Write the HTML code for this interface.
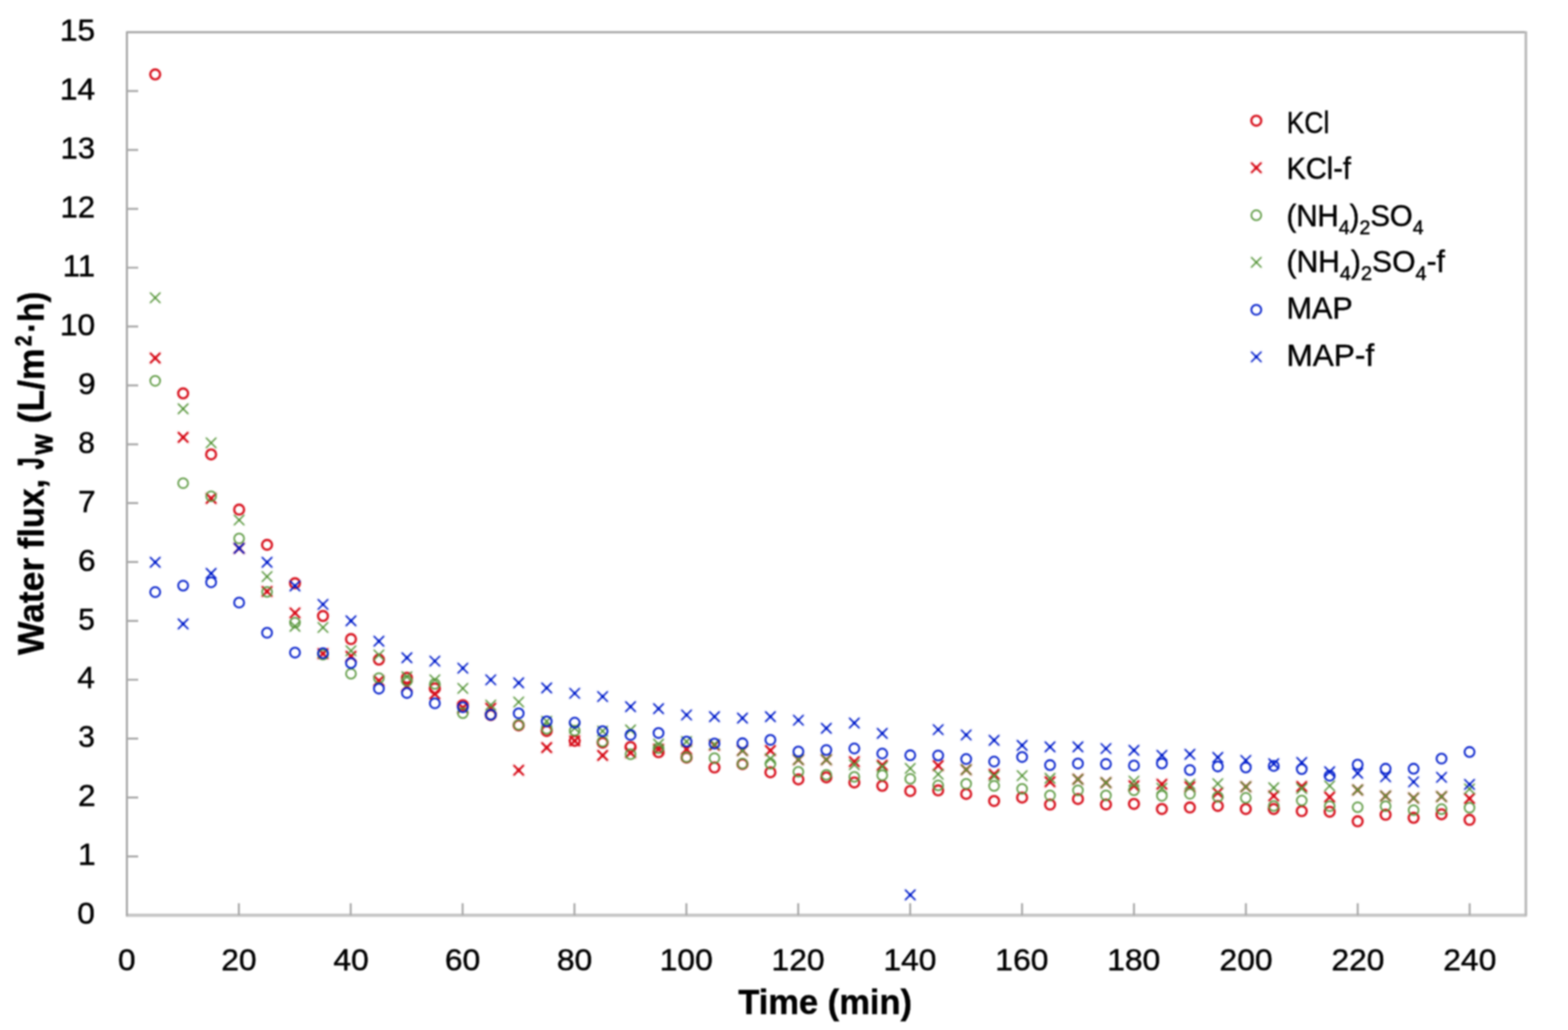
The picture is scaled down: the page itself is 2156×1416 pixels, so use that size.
<!DOCTYPE html>
<html lang="en"><head><meta charset="utf-8"><title>Water flux vs time</title>
<style>html,body{margin:0;padding:0;background:#fff}body{width:2156px;height:1416px;overflow:hidden}svg{display:block}.b{filter:blur(0.9px)}text{font-family:"Liberation Sans", sans-serif}.ro,.go,.bo,.rx,.gx,.bx{fill:none;stroke-linecap:butt}.ro,.rx{stroke:#d8121e}.go,.gx{stroke:#5a983e}.bo,.bx{stroke:#0420cc}.ro{stroke-width:2.9}.rx{stroke-width:2.7}.ro.h1{stroke-width:5.1}.rx.h1{stroke-width:4.9}.rx.d{stroke-linecap:round;stroke-width:5.6}.go{stroke-width:2.0}.gx{stroke-width:1.8}.go.h1{stroke-width:4.2}.gx.h1{stroke-width:4.0}.gx.d{stroke-linecap:round;stroke-width:3.8}.bo{stroke-width:2.3}.bx{stroke-width:2.0}.bo.h1{stroke-width:4.5}.bx.h1{stroke-width:4.2}.bx.d{stroke-linecap:round;stroke-width:4.8}.h1{stroke-opacity:0.1;stroke-linecap:round}.bm{filter:blur(0.9px)}</style></head><body>
<svg role="img" aria-label="Water flux versus time for KCl, (NH4)2SO4 and MAP draw solutions" width="2156" height="1416" viewBox="0 0 2156 1416">
<rect width="2156" height="1416" fill="#ffffff"/>
<g id="frame" class="b" fill="none">
<path d="M173.0 1258.2 H2099.2" stroke="#c6c6c6" stroke-width="4.4"/>
<path d="M174.5 1259.2 V44.3 H2097.7" stroke="#a8a8a8" stroke-width="2.9" stroke-linejoin="round"/>
<path d="M2098.1 42.9 V1259.2" stroke="#bababa" stroke-width="3.6"/>
<path d="M174.5 1177.3h15.5 M174.5 1096.3h15.5 M174.5 1015.4h15.5 M174.5 934.5h15.5 M174.5 853.6h15.5 M174.5 772.6h15.5 M174.5 691.7h15.5 M174.5 610.8h15.5 M174.5 529.9h15.5 M174.5 448.9h15.5 M174.5 368.0h15.5 M174.5 287.1h15.5 M174.5 206.2h15.5 M174.5 125.2h15.5" stroke="#a8a8a8" stroke-width="2.7"/>
<path d="M328.4 1258.2v-16.5 M482.2 1258.2v-16.5 M636.1 1258.2v-16.5 M789.9 1258.2v-16.5 M943.8 1258.2v-16.5 M1097.6 1258.2v-16.5 M1251.5 1258.2v-16.5 M1405.3 1258.2v-16.5 M1559.2 1258.2v-16.5 M1713.1 1258.2v-16.5 M1866.9 1258.2v-16.5 M2020.8 1258.2v-16.5" stroke="#a8a8a8" stroke-width="2.7"/>
</g>
<g id="ylabels" class="b">
<text transform="translate(106.28 1270.20) scale(1.0350 1.0000)" font-size="42" font-weight="400" fill="#000000" stroke="#000000" stroke-width="0.6">0</text>
<text transform="translate(107.23 1189.27) scale(1.0389 1.0000)" font-size="42" font-weight="400" fill="#000000" stroke="#000000" stroke-width="0.6">1</text>
<text transform="translate(107.28 1108.35) scale(1.0368 1.0000)" font-size="42" font-weight="400" fill="#000000" stroke="#000000" stroke-width="0.6">2</text>
<text transform="translate(107.38 1027.42) scale(0.9850 1.0000)" font-size="42" font-weight="400" fill="#000000" stroke="#000000" stroke-width="0.6">3</text>
<text transform="translate(106.32 946.49) scale(1.0333 1.0000)" font-size="42" font-weight="400" fill="#000000" stroke="#000000" stroke-width="0.6">4</text>
<text transform="translate(107.38 865.57) scale(0.9850 1.0000)" font-size="42" font-weight="400" fill="#000000" stroke="#000000" stroke-width="0.6">5</text>
<text transform="translate(107.28 784.64) scale(1.0368 1.0000)" font-size="42" font-weight="400" fill="#000000" stroke="#000000" stroke-width="0.6">6</text>
<text transform="translate(107.28 703.71) scale(1.0368 1.0000)" font-size="42" font-weight="400" fill="#000000" stroke="#000000" stroke-width="0.6">7</text>
<text transform="translate(107.38 622.79) scale(0.9850 1.0000)" font-size="42" font-weight="400" fill="#000000" stroke="#000000" stroke-width="0.6">8</text>
<text transform="translate(107.28 541.86) scale(1.0368 1.0000)" font-size="42" font-weight="400" fill="#000000" stroke="#000000" stroke-width="0.6">9</text>
<text transform="translate(82.23 460.93) scale(1.0405 1.0000)" font-size="42" font-weight="400" fill="#000000" stroke="#000000" stroke-width="0.6">10</text>
<text transform="translate(86.30 380.01) scale(1.0179 1.0000)" font-size="42" font-weight="400" fill="#000000" stroke="#000000" stroke-width="0.6">11</text>
<text transform="translate(83.30 299.08) scale(1.0167 1.0000)" font-size="42" font-weight="400" fill="#000000" stroke="#000000" stroke-width="0.6">12</text>
<text transform="translate(83.30 218.15) scale(1.0167 1.0000)" font-size="42" font-weight="400" fill="#000000" stroke="#000000" stroke-width="0.6">13</text>
<text transform="translate(82.23 137.23) scale(1.0405 1.0000)" font-size="42" font-weight="400" fill="#000000" stroke="#000000" stroke-width="0.6">14</text>
<text transform="translate(82.23 56.30) scale(1.0405 1.0000)" font-size="42" font-weight="400" fill="#000000" stroke="#000000" stroke-width="0.6">15</text>
</g>
<g id="xlabels" class="b">
<text transform="translate(162.28 1333.80) scale(1.0350 1.0000)" font-size="42" font-weight="400" fill="#000000" stroke="#000000" stroke-width="0.6">0</text>
<text transform="translate(304.13 1333.80) scale(1.0395 1.0000)" font-size="42" font-weight="400" fill="#000000" stroke="#000000" stroke-width="0.6">20</text>
<text transform="translate(458.52 1333.80) scale(1.0386 1.0000)" font-size="42" font-weight="400" fill="#000000" stroke="#000000" stroke-width="0.6">40</text>
<text transform="translate(611.84 1333.80) scale(1.0395 1.0000)" font-size="42" font-weight="400" fill="#000000" stroke="#000000" stroke-width="0.6">60</text>
<text transform="translate(765.69 1333.80) scale(1.0395 1.0000)" font-size="42" font-weight="400" fill="#000000" stroke="#000000" stroke-width="0.6">80</text>
<text transform="translate(907.01 1333.80) scale(1.0415 1.0000)" font-size="42" font-weight="400" fill="#000000" stroke="#000000" stroke-width="0.6">100</text>
<text transform="translate(1060.86 1333.80) scale(1.0415 1.0000)" font-size="42" font-weight="400" fill="#000000" stroke="#000000" stroke-width="0.6">120</text>
<text transform="translate(1214.72 1333.80) scale(1.0415 1.0000)" font-size="42" font-weight="400" fill="#000000" stroke="#000000" stroke-width="0.6">140</text>
<text transform="translate(1368.57 1333.80) scale(1.0415 1.0000)" font-size="42" font-weight="400" fill="#000000" stroke="#000000" stroke-width="0.6">160</text>
<text transform="translate(1522.43 1333.80) scale(1.0415 1.0000)" font-size="42" font-weight="400" fill="#000000" stroke="#000000" stroke-width="0.6">180</text>
<text transform="translate(1676.83 1333.80) scale(1.0409 1.0000)" font-size="42" font-weight="400" fill="#000000" stroke="#000000" stroke-width="0.6">200</text>
<text transform="translate(1830.68 1333.80) scale(1.0409 1.0000)" font-size="42" font-weight="400" fill="#000000" stroke="#000000" stroke-width="0.6">220</text>
<text transform="translate(1984.54 1333.80) scale(1.0409 1.0000)" font-size="42" font-weight="400" fill="#000000" stroke="#000000" stroke-width="0.6">240</text>
</g>
<g id="titles" class="b">
<text transform="translate(1015.18 1393.80) scale(0.9675 1.0000)" font-size="49" font-weight="700" fill="#000000" stroke="#000000" stroke-width="0.5">Time (min)</text>
<text transform="translate(60.10 900.45) rotate(-90) scale(0.9750 1)" font-size="50" font-weight="700" fill="#000000" stroke="#000000" stroke-width="0.5">Water</text>
<text transform="translate(60.10 754.69) rotate(-90) scale(0.9364 1)" font-size="50" font-weight="700" fill="#000000" stroke="#000000" stroke-width="0.5">flux,</text>
<text transform="translate(60.10 644.97) rotate(-90) scale(0.5652 1)" font-size="50" font-weight="700" fill="#000000" stroke="#000000" stroke-width="1.5">J</text>
<text transform="translate(72.40 624.90) rotate(-90) scale(0.9032 1)" font-size="33" font-weight="700" fill="#000000" stroke="#000000" stroke-width="1.1">W</text>
<text transform="translate(60.10 582.10) rotate(-90) scale(0.9770 1)" font-size="50" font-weight="700" fill="#000000" stroke="#000000" stroke-width="0.5">(L/m</text>
<text transform="translate(42.60 475.86) rotate(-90) scale(0.8063 1)" font-size="32" font-weight="700" fill="#000000" stroke="#000000" stroke-width="1.0">2</text>
<text transform="translate(60.10 457.18) rotate(-90) scale(0.8776 1)" font-size="50" font-weight="700" fill="#000000" stroke="#000000" stroke-width="0.5">·h)</text>
</g>
<g id="series" class="bm">
<g id="s-ro">
<g class="ro h1"><circle cx="213.4" cy="102.3" r="6.8"/><circle cx="251.8" cy="540.8" r="6.8"/><circle cx="290.3" cy="624.7" r="6.8"/><circle cx="328.8" cy="700.6" r="6.8"/><circle cx="367.2" cy="749.0" r="6.8"/><circle cx="405.6" cy="801.8" r="6.8"/><circle cx="444.1" cy="846.8" r="6.8"/><circle cx="482.6" cy="878.6" r="6.8"/><circle cx="521.0" cy="906.8" r="6.8"/><circle cx="559.5" cy="931.8" r="6.8"/><circle cx="597.9" cy="946.4" r="6.8"/><circle cx="636.4" cy="969.4" r="6.8"/><circle cx="674.8" cy="983.0" r="6.8"/><circle cx="713.2" cy="997.2" r="6.8"/><circle cx="751.7" cy="1004.9" r="6.8"/><circle cx="790.2" cy="1018.5" r="6.8"/><circle cx="828.6" cy="1021.0" r="6.8"/><circle cx="867.0" cy="1026.9" r="6.8"/><circle cx="905.5" cy="1034.1" r="6.8"/><circle cx="944.0" cy="1041.5" r="6.8"/><circle cx="982.4" cy="1055.1" r="6.8"/><circle cx="1020.9" cy="1050.5" r="6.8"/><circle cx="1059.3" cy="1061.7" r="6.8"/><circle cx="1097.8" cy="1071.5" r="6.8"/><circle cx="1136.2" cy="1068.7" r="6.8"/><circle cx="1174.7" cy="1075.7" r="6.8"/><circle cx="1213.1" cy="1080.3" r="6.8"/><circle cx="1251.6" cy="1087.4" r="6.8"/><circle cx="1290.0" cy="1086.6" r="6.8"/><circle cx="1328.5" cy="1091.5" r="6.8"/><circle cx="1366.9" cy="1101.2" r="6.8"/><circle cx="1405.4" cy="1096.4" r="6.8"/><circle cx="1443.8" cy="1106.1" r="6.8"/><circle cx="1482.2" cy="1098.4" r="6.8"/><circle cx="1520.7" cy="1106.0" r="6.8"/><circle cx="1559.2" cy="1105.2" r="6.8"/><circle cx="1597.6" cy="1112.2" r="6.8"/><circle cx="1636.1" cy="1110.1" r="6.8"/><circle cx="1674.5" cy="1108.0" r="6.8"/><circle cx="1713.0" cy="1112.2" r="6.8"/><circle cx="1751.4" cy="1112.2" r="6.8"/><circle cx="1789.9" cy="1115.1" r="6.8"/><circle cx="1828.3" cy="1115.9" r="6.8"/><circle cx="1866.8" cy="1129.1" r="6.8"/><circle cx="1905.2" cy="1120.1" r="6.8"/><circle cx="1943.7" cy="1124.3" r="6.8"/><circle cx="1982.1" cy="1119.4" r="6.8"/><circle cx="2020.6" cy="1127.1" r="6.8"/></g><g class="ro"><circle cx="213.4" cy="102.3" r="6.8"/><circle cx="251.8" cy="540.8" r="6.8"/><circle cx="290.3" cy="624.7" r="6.8"/><circle cx="328.8" cy="700.6" r="6.8"/><circle cx="367.2" cy="749.0" r="6.8"/><circle cx="405.6" cy="801.8" r="6.8"/><circle cx="444.1" cy="846.8" r="6.8"/><circle cx="482.6" cy="878.6" r="6.8"/><circle cx="521.0" cy="906.8" r="6.8"/><circle cx="559.5" cy="931.8" r="6.8"/><circle cx="597.9" cy="946.4" r="6.8"/><circle cx="636.4" cy="969.4" r="6.8"/><circle cx="674.8" cy="983.0" r="6.8"/><circle cx="713.2" cy="997.2" r="6.8"/><circle cx="751.7" cy="1004.9" r="6.8"/><circle cx="790.2" cy="1018.5" r="6.8"/><circle cx="828.6" cy="1021.0" r="6.8"/><circle cx="867.0" cy="1026.9" r="6.8"/><circle cx="905.5" cy="1034.1" r="6.8"/><circle cx="944.0" cy="1041.5" r="6.8"/><circle cx="982.4" cy="1055.1" r="6.8"/><circle cx="1020.9" cy="1050.5" r="6.8"/><circle cx="1059.3" cy="1061.7" r="6.8"/><circle cx="1097.8" cy="1071.5" r="6.8"/><circle cx="1136.2" cy="1068.7" r="6.8"/><circle cx="1174.7" cy="1075.7" r="6.8"/><circle cx="1213.1" cy="1080.3" r="6.8"/><circle cx="1251.6" cy="1087.4" r="6.8"/><circle cx="1290.0" cy="1086.6" r="6.8"/><circle cx="1328.5" cy="1091.5" r="6.8"/><circle cx="1366.9" cy="1101.2" r="6.8"/><circle cx="1405.4" cy="1096.4" r="6.8"/><circle cx="1443.8" cy="1106.1" r="6.8"/><circle cx="1482.2" cy="1098.4" r="6.8"/><circle cx="1520.7" cy="1106.0" r="6.8"/><circle cx="1559.2" cy="1105.2" r="6.8"/><circle cx="1597.6" cy="1112.2" r="6.8"/><circle cx="1636.1" cy="1110.1" r="6.8"/><circle cx="1674.5" cy="1108.0" r="6.8"/><circle cx="1713.0" cy="1112.2" r="6.8"/><circle cx="1751.4" cy="1112.2" r="6.8"/><circle cx="1789.9" cy="1115.1" r="6.8"/><circle cx="1828.3" cy="1115.9" r="6.8"/><circle cx="1866.8" cy="1129.1" r="6.8"/><circle cx="1905.2" cy="1120.1" r="6.8"/><circle cx="1943.7" cy="1124.3" r="6.8"/><circle cx="1982.1" cy="1119.4" r="6.8"/><circle cx="2020.6" cy="1127.1" r="6.8"/></g>
</g>
<g id="s-rx">
<path class="rx h1" d="M206.4 485.2l14.0 14.0m0 -14.0l-14.0 14.0M244.8 594.2l14.0 14.0m0 -14.0l-14.0 14.0M283.3 678.2l14.0 14.0m0 -14.0l-14.0 14.0M321.8 746.7l14.0 14.0m0 -14.0l-14.0 14.0M360.2 806.1l14.0 14.0m0 -14.0l-14.0 14.0M398.6 835.6l14.0 14.0m0 -14.0l-14.0 14.0M437.1 891.6l14.0 14.0m0 -14.0l-14.0 14.0M475.6 895.2l14.0 14.0m0 -14.0l-14.0 14.0M514.0 929.0l14.0 14.0m0 -14.0l-14.0 14.0M552.5 936.0l14.0 14.0m0 -14.0l-14.0 14.0M590.9 947.0l14.0 14.0m0 -14.0l-14.0 14.0M629.4 966.0l14.0 14.0m0 -14.0l-14.0 14.0M667.8 966.6l14.0 14.0m0 -14.0l-14.0 14.0M706.2 1051.9l14.0 14.0m0 -14.0l-14.0 14.0M744.7 1020.7l14.0 14.0m0 -14.0l-14.0 14.0M783.2 1011.5l14.0 14.0m0 -14.0l-14.0 14.0M821.6 1031.5l14.0 14.0m0 -14.0l-14.0 14.0M860.0 1027.8l14.0 14.0m0 -14.0l-14.0 14.0M898.5 1023.0l14.0 14.0m0 -14.0l-14.0 14.0M937.0 1023.0l14.0 14.0m0 -14.0l-14.0 14.0M975.4 1017.5l14.0 14.0m0 -14.0l-14.0 14.0M1013.9 1024.8l14.0 14.0m0 -14.0l-14.0 14.0M1052.3 1024.8l14.0 14.0m0 -14.0l-14.0 14.0M1090.8 1037.4l14.0 14.0m0 -14.0l-14.0 14.0M1129.2 1037.4l14.0 14.0m0 -14.0l-14.0 14.0M1167.7 1040.1l14.0 14.0m0 -14.0l-14.0 14.0M1206.1 1045.0l14.0 14.0m0 -14.0l-14.0 14.0M1283.0 1045.5l14.0 14.0m0 -14.0l-14.0 14.0M1321.5 1051.1l14.0 14.0m0 -14.0l-14.0 14.0M1359.9 1057.4l14.0 14.0m0 -14.0l-14.0 14.0M1436.8 1067.8l14.0 14.0m0 -14.0l-14.0 14.0M1475.2 1064.3l14.0 14.0m0 -14.0l-14.0 14.0M1513.7 1069.0l14.0 14.0m0 -14.0l-14.0 14.0M1552.2 1073.2l14.0 14.0m0 -14.0l-14.0 14.0M1590.6 1071.1l14.0 14.0m0 -14.0l-14.0 14.0M1629.1 1074.6l14.0 14.0m0 -14.0l-14.0 14.0M1667.5 1082.9l14.0 14.0m0 -14.0l-14.0 14.0M1706.0 1074.6l14.0 14.0m0 -14.0l-14.0 14.0M1744.4 1087.1l14.0 14.0m0 -14.0l-14.0 14.0M1782.9 1074.3l14.0 14.0m0 -14.0l-14.0 14.0M1821.3 1088.7l14.0 14.0m0 -14.0l-14.0 14.0M1859.8 1079.0l14.0 14.0m0 -14.0l-14.0 14.0M1898.2 1087.4l14.0 14.0m0 -14.0l-14.0 14.0M1936.7 1090.1l14.0 14.0m0 -14.0l-14.0 14.0M1975.1 1088.1l14.0 14.0m0 -14.0l-14.0 14.0M2013.6 1090.8l14.0 14.0m0 -14.0l-14.0 14.0"/><path class="rx" d="M206.4 485.2l14.0 14.0m0 -14.0l-14.0 14.0M244.8 594.2l14.0 14.0m0 -14.0l-14.0 14.0M283.3 678.2l14.0 14.0m0 -14.0l-14.0 14.0M321.8 746.7l14.0 14.0m0 -14.0l-14.0 14.0M360.2 806.1l14.0 14.0m0 -14.0l-14.0 14.0M398.6 835.6l14.0 14.0m0 -14.0l-14.0 14.0M437.1 891.6l14.0 14.0m0 -14.0l-14.0 14.0M475.6 895.2l14.0 14.0m0 -14.0l-14.0 14.0M514.0 929.0l14.0 14.0m0 -14.0l-14.0 14.0M552.5 936.0l14.0 14.0m0 -14.0l-14.0 14.0M590.9 947.0l14.0 14.0m0 -14.0l-14.0 14.0M629.4 966.0l14.0 14.0m0 -14.0l-14.0 14.0M667.8 966.6l14.0 14.0m0 -14.0l-14.0 14.0M706.2 1051.9l14.0 14.0m0 -14.0l-14.0 14.0M744.7 1020.7l14.0 14.0m0 -14.0l-14.0 14.0M783.2 1011.5l14.0 14.0m0 -14.0l-14.0 14.0M821.6 1031.5l14.0 14.0m0 -14.0l-14.0 14.0M860.0 1027.8l14.0 14.0m0 -14.0l-14.0 14.0M898.5 1023.0l14.0 14.0m0 -14.0l-14.0 14.0M937.0 1023.0l14.0 14.0m0 -14.0l-14.0 14.0M975.4 1017.5l14.0 14.0m0 -14.0l-14.0 14.0M1013.9 1024.8l14.0 14.0m0 -14.0l-14.0 14.0M1052.3 1024.8l14.0 14.0m0 -14.0l-14.0 14.0M1090.8 1037.4l14.0 14.0m0 -14.0l-14.0 14.0M1129.2 1037.4l14.0 14.0m0 -14.0l-14.0 14.0M1167.7 1040.1l14.0 14.0m0 -14.0l-14.0 14.0M1206.1 1045.0l14.0 14.0m0 -14.0l-14.0 14.0M1283.0 1045.5l14.0 14.0m0 -14.0l-14.0 14.0M1321.5 1051.1l14.0 14.0m0 -14.0l-14.0 14.0M1359.9 1057.4l14.0 14.0m0 -14.0l-14.0 14.0M1436.8 1067.8l14.0 14.0m0 -14.0l-14.0 14.0M1475.2 1064.3l14.0 14.0m0 -14.0l-14.0 14.0M1513.7 1069.0l14.0 14.0m0 -14.0l-14.0 14.0M1552.2 1073.2l14.0 14.0m0 -14.0l-14.0 14.0M1590.6 1071.1l14.0 14.0m0 -14.0l-14.0 14.0M1629.1 1074.6l14.0 14.0m0 -14.0l-14.0 14.0M1667.5 1082.9l14.0 14.0m0 -14.0l-14.0 14.0M1706.0 1074.6l14.0 14.0m0 -14.0l-14.0 14.0M1744.4 1087.1l14.0 14.0m0 -14.0l-14.0 14.0M1782.9 1074.3l14.0 14.0m0 -14.0l-14.0 14.0M1821.3 1088.7l14.0 14.0m0 -14.0l-14.0 14.0M1859.8 1079.0l14.0 14.0m0 -14.0l-14.0 14.0M1898.2 1087.4l14.0 14.0m0 -14.0l-14.0 14.0M1936.7 1090.1l14.0 14.0m0 -14.0l-14.0 14.0M1975.1 1088.1l14.0 14.0m0 -14.0l-14.0 14.0M2013.6 1090.8l14.0 14.0m0 -14.0l-14.0 14.0"/><path class="rx d" d="M213.4 492.2h0M251.8 601.2h0M290.3 685.2h0M328.8 753.7h0M367.2 813.1h0M405.6 842.6h0M444.1 898.6h0M482.6 902.2h0M521.0 936.0h0M559.5 943.0h0M597.9 954.0h0M636.4 973.0h0M674.8 973.6h0M713.2 1058.9h0M751.7 1027.7h0M790.2 1018.5h0M828.6 1038.5h0M867.0 1034.8h0M905.5 1030.0h0M944.0 1030.0h0M982.4 1024.5h0M1020.9 1031.8h0M1059.3 1031.8h0M1097.8 1044.4h0M1136.2 1044.4h0M1174.7 1047.1h0M1213.1 1052.0h0M1290.0 1052.5h0M1328.5 1058.1h0M1366.9 1064.4h0M1443.8 1074.8h0M1482.2 1071.3h0M1520.7 1076.0h0M1559.2 1080.2h0M1597.6 1078.1h0M1636.1 1081.6h0M1674.5 1089.9h0M1713.0 1081.6h0M1751.4 1094.1h0M1789.9 1081.3h0M1828.3 1095.7h0M1866.8 1086.0h0M1905.2 1094.4h0M1943.7 1097.1h0M1982.1 1095.1h0M2020.6 1097.8h0"/>
</g>
<g id="s-go">
<g class="go h1"><circle cx="213.4" cy="523.6" r="6.8"/><circle cx="251.8" cy="664.3" r="6.8"/><circle cx="290.3" cy="682.2" r="6.8"/><circle cx="328.8" cy="740.3" r="6.8"/><circle cx="367.2" cy="813.7" r="6.8"/><circle cx="405.6" cy="856.0" r="6.8"/><circle cx="444.1" cy="900.0" r="6.8"/><circle cx="482.6" cy="926.2" r="6.8"/><circle cx="521.0" cy="932.2" r="6.8"/><circle cx="559.5" cy="936.0" r="6.8"/><circle cx="597.9" cy="940.2" r="6.8"/><circle cx="636.4" cy="980.5" r="6.8"/><circle cx="674.8" cy="982.5" r="6.8"/><circle cx="713.2" cy="996.5" r="6.8"/><circle cx="751.7" cy="1002.0" r="6.8"/><circle cx="790.2" cy="1004.5" r="6.8"/><circle cx="828.6" cy="1019.5" r="6.8"/><circle cx="867.0" cy="1036.9" r="6.8"/><circle cx="905.5" cy="1028.5" r="6.8"/><circle cx="944.0" cy="1041.0" r="6.8"/><circle cx="982.4" cy="1042.3" r="6.8"/><circle cx="1020.9" cy="1049.9" r="6.8"/><circle cx="1059.3" cy="1049.9" r="6.8"/><circle cx="1097.8" cy="1061.0" r="6.8"/><circle cx="1136.2" cy="1065.2" r="6.8"/><circle cx="1174.7" cy="1068.0" r="6.8"/><circle cx="1213.1" cy="1065.9" r="6.8"/><circle cx="1251.6" cy="1070.7" r="6.8"/><circle cx="1290.0" cy="1079.7" r="6.8"/><circle cx="1328.5" cy="1077.6" r="6.8"/><circle cx="1366.9" cy="1080.4" r="6.8"/><circle cx="1405.4" cy="1084.5" r="6.8"/><circle cx="1443.8" cy="1093.6" r="6.8"/><circle cx="1482.2" cy="1086.6" r="6.8"/><circle cx="1520.7" cy="1093.5" r="6.8"/><circle cx="1559.2" cy="1086.4" r="6.8"/><circle cx="1597.6" cy="1094.1" r="6.8"/><circle cx="1636.1" cy="1091.3" r="6.8"/><circle cx="1674.5" cy="1095.5" r="6.8"/><circle cx="1713.0" cy="1096.9" r="6.8"/><circle cx="1751.4" cy="1108.0" r="6.8"/><circle cx="1789.9" cy="1100.5" r="6.8"/><circle cx="1828.3" cy="1108.3" r="6.8"/><circle cx="1866.8" cy="1109.7" r="6.8"/><circle cx="1905.2" cy="1108.3" r="6.8"/><circle cx="1943.7" cy="1113.8" r="6.8"/><circle cx="1982.1" cy="1112.4" r="6.8"/><circle cx="2020.6" cy="1110.4" r="6.8"/></g><g class="go"><circle cx="213.4" cy="523.6" r="6.8"/><circle cx="251.8" cy="664.3" r="6.8"/><circle cx="290.3" cy="682.2" r="6.8"/><circle cx="328.8" cy="740.3" r="6.8"/><circle cx="367.2" cy="813.7" r="6.8"/><circle cx="405.6" cy="856.0" r="6.8"/><circle cx="444.1" cy="900.0" r="6.8"/><circle cx="482.6" cy="926.2" r="6.8"/><circle cx="521.0" cy="932.2" r="6.8"/><circle cx="559.5" cy="936.0" r="6.8"/><circle cx="597.9" cy="940.2" r="6.8"/><circle cx="636.4" cy="980.5" r="6.8"/><circle cx="674.8" cy="982.5" r="6.8"/><circle cx="713.2" cy="996.5" r="6.8"/><circle cx="751.7" cy="1002.0" r="6.8"/><circle cx="790.2" cy="1004.5" r="6.8"/><circle cx="828.6" cy="1019.5" r="6.8"/><circle cx="867.0" cy="1036.9" r="6.8"/><circle cx="905.5" cy="1028.5" r="6.8"/><circle cx="944.0" cy="1041.0" r="6.8"/><circle cx="982.4" cy="1042.3" r="6.8"/><circle cx="1020.9" cy="1049.9" r="6.8"/><circle cx="1059.3" cy="1049.9" r="6.8"/><circle cx="1097.8" cy="1061.0" r="6.8"/><circle cx="1136.2" cy="1065.2" r="6.8"/><circle cx="1174.7" cy="1068.0" r="6.8"/><circle cx="1213.1" cy="1065.9" r="6.8"/><circle cx="1251.6" cy="1070.7" r="6.8"/><circle cx="1290.0" cy="1079.7" r="6.8"/><circle cx="1328.5" cy="1077.6" r="6.8"/><circle cx="1366.9" cy="1080.4" r="6.8"/><circle cx="1405.4" cy="1084.5" r="6.8"/><circle cx="1443.8" cy="1093.6" r="6.8"/><circle cx="1482.2" cy="1086.6" r="6.8"/><circle cx="1520.7" cy="1093.5" r="6.8"/><circle cx="1559.2" cy="1086.4" r="6.8"/><circle cx="1597.6" cy="1094.1" r="6.8"/><circle cx="1636.1" cy="1091.3" r="6.8"/><circle cx="1674.5" cy="1095.5" r="6.8"/><circle cx="1713.0" cy="1096.9" r="6.8"/><circle cx="1751.4" cy="1108.0" r="6.8"/><circle cx="1789.9" cy="1100.5" r="6.8"/><circle cx="1828.3" cy="1108.3" r="6.8"/><circle cx="1866.8" cy="1109.7" r="6.8"/><circle cx="1905.2" cy="1108.3" r="6.8"/><circle cx="1943.7" cy="1113.8" r="6.8"/><circle cx="1982.1" cy="1112.4" r="6.8"/><circle cx="2020.6" cy="1110.4" r="6.8"/></g>
</g>
<g id="s-gx">
<path class="gx h1" d="M206.4 402.4l14.0 14.0m0 -14.0l-14.0 14.0M244.8 555.0l14.0 14.0m0 -14.0l-14.0 14.0M283.3 601.8l14.0 14.0m0 -14.0l-14.0 14.0M321.8 707.9l14.0 14.0m0 -14.0l-14.0 14.0M360.2 785.7l14.0 14.0m0 -14.0l-14.0 14.0M398.6 854.0l14.0 14.0m0 -14.0l-14.0 14.0M437.1 855.7l14.0 14.0m0 -14.0l-14.0 14.0M475.6 887.7l14.0 14.0m0 -14.0l-14.0 14.0M514.0 893.3l14.0 14.0m0 -14.0l-14.0 14.0M552.5 923.4l14.0 14.0m0 -14.0l-14.0 14.0M590.9 927.6l14.0 14.0m0 -14.0l-14.0 14.0M629.4 939.4l14.0 14.0m0 -14.0l-14.0 14.0M667.8 962.4l14.0 14.0m0 -14.0l-14.0 14.0M706.2 958.2l14.0 14.0m0 -14.0l-14.0 14.0M744.7 984.7l14.0 14.0m0 -14.0l-14.0 14.0M783.2 994.0l14.0 14.0m0 -14.0l-14.0 14.0M821.6 998.2l14.0 14.0m0 -14.0l-14.0 14.0M860.0 996.5l14.0 14.0m0 -14.0l-14.0 14.0M898.5 1016.0l14.0 14.0m0 -14.0l-14.0 14.0M937.0 1012.5l14.0 14.0m0 -14.0l-14.0 14.0M975.4 1016.5l14.0 14.0m0 -14.0l-14.0 14.0M1013.9 1024.8l14.0 14.0m0 -14.0l-14.0 14.0M1052.3 1036.0l14.0 14.0m0 -14.0l-14.0 14.0M1090.8 1037.4l14.0 14.0m0 -14.0l-14.0 14.0M1129.2 1037.4l14.0 14.0m0 -14.0l-14.0 14.0M1167.7 1044.3l14.0 14.0m0 -14.0l-14.0 14.0M1206.1 1047.1l14.0 14.0m0 -14.0l-14.0 14.0M1244.6 1049.4l14.0 14.0m0 -14.0l-14.0 14.0M1283.0 1057.4l14.0 14.0m0 -14.0l-14.0 14.0M1321.5 1051.1l14.0 14.0m0 -14.0l-14.0 14.0M1359.9 1060.0l14.0 14.0m0 -14.0l-14.0 14.0M1398.4 1059.4l14.0 14.0m0 -14.0l-14.0 14.0M1436.8 1063.0l14.0 14.0m0 -14.0l-14.0 14.0M1475.2 1064.3l14.0 14.0m0 -14.0l-14.0 14.0M1513.7 1069.0l14.0 14.0m0 -14.0l-14.0 14.0M1552.2 1066.9l14.0 14.0m0 -14.0l-14.0 14.0M1590.6 1076.7l14.0 14.0m0 -14.0l-14.0 14.0M1629.1 1071.1l14.0 14.0m0 -14.0l-14.0 14.0M1667.5 1070.4l14.0 14.0m0 -14.0l-14.0 14.0M1706.0 1074.6l14.0 14.0m0 -14.0l-14.0 14.0M1744.4 1076.0l14.0 14.0m0 -14.0l-14.0 14.0M1782.9 1077.0l14.0 14.0m0 -14.0l-14.0 14.0M1821.3 1073.4l14.0 14.0m0 -14.0l-14.0 14.0M1859.8 1079.0l14.0 14.0m0 -14.0l-14.0 14.0M1898.2 1087.4l14.0 14.0m0 -14.0l-14.0 14.0M1936.7 1090.1l14.0 14.0m0 -14.0l-14.0 14.0M1975.1 1088.1l14.0 14.0m0 -14.0l-14.0 14.0M2013.6 1077.6l14.0 14.0m0 -14.0l-14.0 14.0"/><path class="gx" d="M206.4 402.4l14.0 14.0m0 -14.0l-14.0 14.0M244.8 555.0l14.0 14.0m0 -14.0l-14.0 14.0M283.3 601.8l14.0 14.0m0 -14.0l-14.0 14.0M321.8 707.9l14.0 14.0m0 -14.0l-14.0 14.0M360.2 785.7l14.0 14.0m0 -14.0l-14.0 14.0M398.6 854.0l14.0 14.0m0 -14.0l-14.0 14.0M437.1 855.7l14.0 14.0m0 -14.0l-14.0 14.0M475.6 887.7l14.0 14.0m0 -14.0l-14.0 14.0M514.0 893.3l14.0 14.0m0 -14.0l-14.0 14.0M552.5 923.4l14.0 14.0m0 -14.0l-14.0 14.0M590.9 927.6l14.0 14.0m0 -14.0l-14.0 14.0M629.4 939.4l14.0 14.0m0 -14.0l-14.0 14.0M667.8 962.4l14.0 14.0m0 -14.0l-14.0 14.0M706.2 958.2l14.0 14.0m0 -14.0l-14.0 14.0M744.7 984.7l14.0 14.0m0 -14.0l-14.0 14.0M783.2 994.0l14.0 14.0m0 -14.0l-14.0 14.0M821.6 998.2l14.0 14.0m0 -14.0l-14.0 14.0M860.0 996.5l14.0 14.0m0 -14.0l-14.0 14.0M898.5 1016.0l14.0 14.0m0 -14.0l-14.0 14.0M937.0 1012.5l14.0 14.0m0 -14.0l-14.0 14.0M975.4 1016.5l14.0 14.0m0 -14.0l-14.0 14.0M1013.9 1024.8l14.0 14.0m0 -14.0l-14.0 14.0M1052.3 1036.0l14.0 14.0m0 -14.0l-14.0 14.0M1090.8 1037.4l14.0 14.0m0 -14.0l-14.0 14.0M1129.2 1037.4l14.0 14.0m0 -14.0l-14.0 14.0M1167.7 1044.3l14.0 14.0m0 -14.0l-14.0 14.0M1206.1 1047.1l14.0 14.0m0 -14.0l-14.0 14.0M1244.6 1049.4l14.0 14.0m0 -14.0l-14.0 14.0M1283.0 1057.4l14.0 14.0m0 -14.0l-14.0 14.0M1321.5 1051.1l14.0 14.0m0 -14.0l-14.0 14.0M1359.9 1060.0l14.0 14.0m0 -14.0l-14.0 14.0M1398.4 1059.4l14.0 14.0m0 -14.0l-14.0 14.0M1436.8 1063.0l14.0 14.0m0 -14.0l-14.0 14.0M1475.2 1064.3l14.0 14.0m0 -14.0l-14.0 14.0M1513.7 1069.0l14.0 14.0m0 -14.0l-14.0 14.0M1552.2 1066.9l14.0 14.0m0 -14.0l-14.0 14.0M1590.6 1076.7l14.0 14.0m0 -14.0l-14.0 14.0M1629.1 1071.1l14.0 14.0m0 -14.0l-14.0 14.0M1667.5 1070.4l14.0 14.0m0 -14.0l-14.0 14.0M1706.0 1074.6l14.0 14.0m0 -14.0l-14.0 14.0M1744.4 1076.0l14.0 14.0m0 -14.0l-14.0 14.0M1782.9 1077.0l14.0 14.0m0 -14.0l-14.0 14.0M1821.3 1073.4l14.0 14.0m0 -14.0l-14.0 14.0M1859.8 1079.0l14.0 14.0m0 -14.0l-14.0 14.0M1898.2 1087.4l14.0 14.0m0 -14.0l-14.0 14.0M1936.7 1090.1l14.0 14.0m0 -14.0l-14.0 14.0M1975.1 1088.1l14.0 14.0m0 -14.0l-14.0 14.0M2013.6 1077.6l14.0 14.0m0 -14.0l-14.0 14.0"/><path class="gx d" d="M213.4 409.4h0M251.8 562.0h0M290.3 608.8h0M328.8 714.9h0M367.2 792.7h0M405.6 861.0h0M444.1 862.7h0M482.6 894.7h0M521.0 900.3h0M559.5 930.4h0M597.9 934.6h0M636.4 946.4h0M674.8 969.4h0M713.2 965.2h0M751.7 991.7h0M790.2 1001.0h0M828.6 1005.2h0M867.0 1003.5h0M905.5 1023.0h0M944.0 1019.5h0M982.4 1023.5h0M1020.9 1031.8h0M1059.3 1043.0h0M1097.8 1044.4h0M1136.2 1044.4h0M1174.7 1051.3h0M1213.1 1054.1h0M1251.6 1056.4h0M1290.0 1064.4h0M1328.5 1058.1h0M1366.9 1067.0h0M1405.4 1066.4h0M1443.8 1070.0h0M1482.2 1071.3h0M1520.7 1076.0h0M1559.2 1073.9h0M1597.6 1083.7h0M1636.1 1078.1h0M1674.5 1077.4h0M1713.0 1081.6h0M1751.4 1083.0h0M1789.9 1084.0h0M1828.3 1080.4h0M1866.8 1086.0h0M1905.2 1094.4h0M1943.7 1097.1h0M1982.1 1095.1h0M2020.6 1084.6h0"/>
</g>
<g id="s-bo">
<g class="bo h1"><circle cx="213.4" cy="814.0" r="6.8"/><circle cx="251.8" cy="805.1" r="6.8"/><circle cx="290.3" cy="800.5" r="6.8"/><circle cx="328.8" cy="828.4" r="6.8"/><circle cx="367.2" cy="869.9" r="6.8"/><circle cx="405.6" cy="897.2" r="6.8"/><circle cx="444.1" cy="898.0" r="6.8"/><circle cx="482.6" cy="911.6" r="6.8"/><circle cx="521.0" cy="946.7" r="6.8"/><circle cx="559.5" cy="952.7" r="6.8"/><circle cx="597.9" cy="966.9" r="6.8"/><circle cx="636.4" cy="972.2" r="6.8"/><circle cx="674.8" cy="982.6" r="6.8"/><circle cx="713.2" cy="980.7" r="6.8"/><circle cx="751.7" cy="991.7" r="6.8"/><circle cx="790.2" cy="993.5" r="6.8"/><circle cx="828.6" cy="1005.2" r="6.8"/><circle cx="867.0" cy="1010.4" r="6.8"/><circle cx="905.5" cy="1007.7" r="6.8"/><circle cx="944.0" cy="1019.5" r="6.8"/><circle cx="982.4" cy="1022.2" r="6.8"/><circle cx="1020.9" cy="1021.8" r="6.8"/><circle cx="1059.3" cy="1017.2" r="6.8"/><circle cx="1097.8" cy="1033.2" r="6.8"/><circle cx="1136.2" cy="1031.1" r="6.8"/><circle cx="1174.7" cy="1029.0" r="6.8"/><circle cx="1213.1" cy="1036.0" r="6.8"/><circle cx="1251.6" cy="1038.3" r="6.8"/><circle cx="1290.0" cy="1038.6" r="6.8"/><circle cx="1328.5" cy="1043.5" r="6.8"/><circle cx="1366.9" cy="1047.0" r="6.8"/><circle cx="1405.4" cy="1040.7" r="6.8"/><circle cx="1443.8" cy="1051.8" r="6.8"/><circle cx="1482.2" cy="1049.7" r="6.8"/><circle cx="1520.7" cy="1050.3" r="6.8"/><circle cx="1559.2" cy="1052.4" r="6.8"/><circle cx="1597.6" cy="1049.6" r="6.8"/><circle cx="1636.1" cy="1058.6" r="6.8"/><circle cx="1674.5" cy="1053.7" r="6.8"/><circle cx="1713.0" cy="1055.1" r="6.8"/><circle cx="1751.4" cy="1053.0" r="6.8"/><circle cx="1789.9" cy="1057.3" r="6.8"/><circle cx="1828.3" cy="1066.5" r="6.8"/><circle cx="1866.8" cy="1051.2" r="6.8"/><circle cx="1905.2" cy="1056.8" r="6.8"/><circle cx="1943.7" cy="1056.8" r="6.8"/><circle cx="1982.1" cy="1042.9" r="6.8"/><circle cx="2020.6" cy="1033.8" r="6.8"/></g><g class="bo"><circle cx="213.4" cy="814.0" r="6.8"/><circle cx="251.8" cy="805.1" r="6.8"/><circle cx="290.3" cy="800.5" r="6.8"/><circle cx="328.8" cy="828.4" r="6.8"/><circle cx="367.2" cy="869.9" r="6.8"/><circle cx="405.6" cy="897.2" r="6.8"/><circle cx="444.1" cy="898.0" r="6.8"/><circle cx="482.6" cy="911.6" r="6.8"/><circle cx="521.0" cy="946.7" r="6.8"/><circle cx="559.5" cy="952.7" r="6.8"/><circle cx="597.9" cy="966.9" r="6.8"/><circle cx="636.4" cy="972.2" r="6.8"/><circle cx="674.8" cy="982.6" r="6.8"/><circle cx="713.2" cy="980.7" r="6.8"/><circle cx="751.7" cy="991.7" r="6.8"/><circle cx="790.2" cy="993.5" r="6.8"/><circle cx="828.6" cy="1005.2" r="6.8"/><circle cx="867.0" cy="1010.4" r="6.8"/><circle cx="905.5" cy="1007.7" r="6.8"/><circle cx="944.0" cy="1019.5" r="6.8"/><circle cx="982.4" cy="1022.2" r="6.8"/><circle cx="1020.9" cy="1021.8" r="6.8"/><circle cx="1059.3" cy="1017.2" r="6.8"/><circle cx="1097.8" cy="1033.2" r="6.8"/><circle cx="1136.2" cy="1031.1" r="6.8"/><circle cx="1174.7" cy="1029.0" r="6.8"/><circle cx="1213.1" cy="1036.0" r="6.8"/><circle cx="1251.6" cy="1038.3" r="6.8"/><circle cx="1290.0" cy="1038.6" r="6.8"/><circle cx="1328.5" cy="1043.5" r="6.8"/><circle cx="1366.9" cy="1047.0" r="6.8"/><circle cx="1405.4" cy="1040.7" r="6.8"/><circle cx="1443.8" cy="1051.8" r="6.8"/><circle cx="1482.2" cy="1049.7" r="6.8"/><circle cx="1520.7" cy="1050.3" r="6.8"/><circle cx="1559.2" cy="1052.4" r="6.8"/><circle cx="1597.6" cy="1049.6" r="6.8"/><circle cx="1636.1" cy="1058.6" r="6.8"/><circle cx="1674.5" cy="1053.7" r="6.8"/><circle cx="1713.0" cy="1055.1" r="6.8"/><circle cx="1751.4" cy="1053.0" r="6.8"/><circle cx="1789.9" cy="1057.3" r="6.8"/><circle cx="1828.3" cy="1066.5" r="6.8"/><circle cx="1866.8" cy="1051.2" r="6.8"/><circle cx="1905.2" cy="1056.8" r="6.8"/><circle cx="1943.7" cy="1056.8" r="6.8"/><circle cx="1982.1" cy="1042.9" r="6.8"/><circle cx="2020.6" cy="1033.8" r="6.8"/></g>
</g>
<g id="s-bx">
<path class="bx h1" d="M206.4 766.0l14.0 14.0m0 -14.0l-14.0 14.0M244.8 850.7l14.0 14.0m0 -14.0l-14.0 14.0M283.3 781.3l14.0 14.0m0 -14.0l-14.0 14.0M321.8 746.7l14.0 14.0m0 -14.0l-14.0 14.0M360.2 766.0l14.0 14.0m0 -14.0l-14.0 14.0M398.6 798.5l14.0 14.0m0 -14.0l-14.0 14.0M437.1 823.9l14.0 14.0m0 -14.0l-14.0 14.0M475.6 846.5l14.0 14.0m0 -14.0l-14.0 14.0M514.0 874.5l14.0 14.0m0 -14.0l-14.0 14.0M552.5 897.3l14.0 14.0m0 -14.0l-14.0 14.0M590.9 901.9l14.0 14.0m0 -14.0l-14.0 14.0M629.4 911.6l14.0 14.0m0 -14.0l-14.0 14.0M667.8 927.6l14.0 14.0m0 -14.0l-14.0 14.0M706.2 931.8l14.0 14.0m0 -14.0l-14.0 14.0M744.7 938.8l14.0 14.0m0 -14.0l-14.0 14.0M783.2 946.1l14.0 14.0m0 -14.0l-14.0 14.0M821.6 950.6l14.0 14.0m0 -14.0l-14.0 14.0M860.0 964.5l14.0 14.0m0 -14.0l-14.0 14.0M898.5 967.3l14.0 14.0m0 -14.0l-14.0 14.0M937.0 975.9l14.0 14.0m0 -14.0l-14.0 14.0M975.4 978.3l14.0 14.0m0 -14.0l-14.0 14.0M1013.9 980.3l14.0 14.0m0 -14.0l-14.0 14.0M1052.3 978.2l14.0 14.0m0 -14.0l-14.0 14.0M1090.8 983.1l14.0 14.0m0 -14.0l-14.0 14.0M1129.2 994.2l14.0 14.0m0 -14.0l-14.0 14.0M1167.7 987.0l14.0 14.0m0 -14.0l-14.0 14.0M1206.1 1001.2l14.0 14.0m0 -14.0l-14.0 14.0M1244.6 1223.3l14.0 14.0m0 -14.0l-14.0 14.0M1283.0 996.1l14.0 14.0m0 -14.0l-14.0 14.0M1321.5 1003.4l14.0 14.0m0 -14.0l-14.0 14.0M1359.9 1010.7l14.0 14.0m0 -14.0l-14.0 14.0M1398.4 1017.7l14.0 14.0m0 -14.0l-14.0 14.0M1436.8 1019.8l14.0 14.0m0 -14.0l-14.0 14.0M1475.2 1019.8l14.0 14.0m0 -14.0l-14.0 14.0M1513.7 1022.1l14.0 14.0m0 -14.0l-14.0 14.0M1552.2 1024.5l14.0 14.0m0 -14.0l-14.0 14.0M1590.6 1031.4l14.0 14.0m0 -14.0l-14.0 14.0M1629.1 1030.0l14.0 14.0m0 -14.0l-14.0 14.0M1667.5 1034.2l14.0 14.0m0 -14.0l-14.0 14.0M1706.0 1038.4l14.0 14.0m0 -14.0l-14.0 14.0M1744.4 1043.0l14.0 14.0m0 -14.0l-14.0 14.0M1782.9 1041.3l14.0 14.0m0 -14.0l-14.0 14.0M1821.3 1054.0l14.0 14.0m0 -14.0l-14.0 14.0M1859.8 1056.0l14.0 14.0m0 -14.0l-14.0 14.0M1898.2 1060.9l14.0 14.0m0 -14.0l-14.0 14.0M1936.7 1067.9l14.0 14.0m0 -14.0l-14.0 14.0M1975.1 1061.6l14.0 14.0m0 -14.0l-14.0 14.0M2013.6 1071.4l14.0 14.0m0 -14.0l-14.0 14.0"/><path class="bx" d="M206.4 766.0l14.0 14.0m0 -14.0l-14.0 14.0M244.8 850.7l14.0 14.0m0 -14.0l-14.0 14.0M283.3 781.3l14.0 14.0m0 -14.0l-14.0 14.0M321.8 746.7l14.0 14.0m0 -14.0l-14.0 14.0M360.2 766.0l14.0 14.0m0 -14.0l-14.0 14.0M398.6 798.5l14.0 14.0m0 -14.0l-14.0 14.0M437.1 823.9l14.0 14.0m0 -14.0l-14.0 14.0M475.6 846.5l14.0 14.0m0 -14.0l-14.0 14.0M514.0 874.5l14.0 14.0m0 -14.0l-14.0 14.0M552.5 897.3l14.0 14.0m0 -14.0l-14.0 14.0M590.9 901.9l14.0 14.0m0 -14.0l-14.0 14.0M629.4 911.6l14.0 14.0m0 -14.0l-14.0 14.0M667.8 927.6l14.0 14.0m0 -14.0l-14.0 14.0M706.2 931.8l14.0 14.0m0 -14.0l-14.0 14.0M744.7 938.8l14.0 14.0m0 -14.0l-14.0 14.0M783.2 946.1l14.0 14.0m0 -14.0l-14.0 14.0M821.6 950.6l14.0 14.0m0 -14.0l-14.0 14.0M860.0 964.5l14.0 14.0m0 -14.0l-14.0 14.0M898.5 967.3l14.0 14.0m0 -14.0l-14.0 14.0M937.0 975.9l14.0 14.0m0 -14.0l-14.0 14.0M975.4 978.3l14.0 14.0m0 -14.0l-14.0 14.0M1013.9 980.3l14.0 14.0m0 -14.0l-14.0 14.0M1052.3 978.2l14.0 14.0m0 -14.0l-14.0 14.0M1090.8 983.1l14.0 14.0m0 -14.0l-14.0 14.0M1129.2 994.2l14.0 14.0m0 -14.0l-14.0 14.0M1167.7 987.0l14.0 14.0m0 -14.0l-14.0 14.0M1206.1 1001.2l14.0 14.0m0 -14.0l-14.0 14.0M1244.6 1223.3l14.0 14.0m0 -14.0l-14.0 14.0M1283.0 996.1l14.0 14.0m0 -14.0l-14.0 14.0M1321.5 1003.4l14.0 14.0m0 -14.0l-14.0 14.0M1359.9 1010.7l14.0 14.0m0 -14.0l-14.0 14.0M1398.4 1017.7l14.0 14.0m0 -14.0l-14.0 14.0M1436.8 1019.8l14.0 14.0m0 -14.0l-14.0 14.0M1475.2 1019.8l14.0 14.0m0 -14.0l-14.0 14.0M1513.7 1022.1l14.0 14.0m0 -14.0l-14.0 14.0M1552.2 1024.5l14.0 14.0m0 -14.0l-14.0 14.0M1590.6 1031.4l14.0 14.0m0 -14.0l-14.0 14.0M1629.1 1030.0l14.0 14.0m0 -14.0l-14.0 14.0M1667.5 1034.2l14.0 14.0m0 -14.0l-14.0 14.0M1706.0 1038.4l14.0 14.0m0 -14.0l-14.0 14.0M1744.4 1043.0l14.0 14.0m0 -14.0l-14.0 14.0M1782.9 1041.3l14.0 14.0m0 -14.0l-14.0 14.0M1821.3 1054.0l14.0 14.0m0 -14.0l-14.0 14.0M1859.8 1056.0l14.0 14.0m0 -14.0l-14.0 14.0M1898.2 1060.9l14.0 14.0m0 -14.0l-14.0 14.0M1936.7 1067.9l14.0 14.0m0 -14.0l-14.0 14.0M1975.1 1061.6l14.0 14.0m0 -14.0l-14.0 14.0M2013.6 1071.4l14.0 14.0m0 -14.0l-14.0 14.0"/><path class="bx d" d="M213.4 773.0h0M251.8 857.7h0M290.3 788.3h0M328.8 753.7h0M367.2 773.0h0M405.6 805.5h0M444.1 830.9h0M482.6 853.5h0M521.0 881.5h0M559.5 904.3h0M597.9 908.9h0M636.4 918.6h0M674.8 934.6h0M713.2 938.8h0M751.7 945.8h0M790.2 953.1h0M828.6 957.6h0M867.0 971.5h0M905.5 974.3h0M944.0 982.9h0M982.4 985.3h0M1020.9 987.3h0M1059.3 985.2h0M1097.8 990.1h0M1136.2 1001.2h0M1174.7 994.0h0M1213.1 1008.2h0M1251.6 1230.3h0M1290.0 1003.1h0M1328.5 1010.4h0M1366.9 1017.7h0M1405.4 1024.7h0M1443.8 1026.8h0M1482.2 1026.8h0M1520.7 1029.1h0M1559.2 1031.5h0M1597.6 1038.4h0M1636.1 1037.0h0M1674.5 1041.2h0M1713.0 1045.4h0M1751.4 1050.0h0M1789.9 1048.3h0M1828.3 1061.0h0M1866.8 1063.0h0M1905.2 1067.9h0M1943.7 1074.9h0M1982.1 1068.6h0M2020.6 1078.4h0"/>
</g>
</g>
<g id="legend">
<g class="bm">
<g class="ro h1"><circle cx="1727.4" cy="165.9" r="6.8"/></g><g class="ro"><circle cx="1727.4" cy="165.9" r="6.8"/></g>
<path class="rx h1" d="M1720.4 223.6l14.0 14.0m0 -14.0l-14.0 14.0"/><path class="rx" d="M1720.4 223.6l14.0 14.0m0 -14.0l-14.0 14.0"/><path class="rx d" d="M1727.4 230.6h0"/>
<g class="go h1"><circle cx="1727.4" cy="295.9" r="6.8"/></g><g class="go"><circle cx="1727.4" cy="295.9" r="6.8"/></g>
<path class="gx h1" d="M1720.4 353.6l14.0 14.0m0 -14.0l-14.0 14.0"/><path class="gx" d="M1720.4 353.6l14.0 14.0m0 -14.0l-14.0 14.0"/><path class="gx d" d="M1727.4 360.6h0"/>
<g class="bo h1"><circle cx="1727.4" cy="425.9" r="6.8"/></g><g class="bo"><circle cx="1727.4" cy="425.9" r="6.8"/></g>
<path class="bx h1" d="M1720.4 483.6l14.0 14.0m0 -14.0l-14.0 14.0"/><path class="bx" d="M1720.4 483.6l14.0 14.0m0 -14.0l-14.0 14.0"/><path class="bx d" d="M1727.4 490.6h0"/>
</g>
<g class="b">
<text transform="translate(1769.26 183.30) scale(0.8645 1.0000)" font-size="42" font-weight="400" fill="#000000" stroke="#000000" stroke-width="0.6">KCl</text>
<text transform="translate(1769.00 246.30) scale(0.9484 1.0000)" font-size="42" font-weight="400" fill="#000000" stroke="#000000" stroke-width="0.6">KCl-f</text>
<text transform="translate(1768.97 311.00) scale(0.9615 1.0000)" font-size="42" font-weight="400" fill="#000000" stroke="#000000" stroke-width="0.6">(NH<tspan font-size="28" dy="10.5">4</tspan><tspan dy="-10.5">)</tspan><tspan font-size="28" dy="10.5">2</tspan><tspan dy="-10.5">SO</tspan><tspan font-size="28" dy="10.5">4</tspan></text>
<text transform="translate(1768.90 374.00) scale(0.9831 1.0000)" font-size="42" font-weight="400" fill="#000000" stroke="#000000" stroke-width="0.6">(NH<tspan font-size="28" dy="10.5">4</tspan><tspan dy="-10.5">)</tspan><tspan font-size="28" dy="10.5">2</tspan><tspan dy="-10.5">SO</tspan><tspan font-size="28" dy="10.5">4</tspan><tspan dy="-10.5">-f</tspan></text>
<text transform="translate(1769.05 437.70) scale(1.0012 1.0000)" font-size="42" font-weight="400" fill="#000000" stroke="#000000" stroke-width="0.6">MAP</text>
<text transform="translate(1768.95 502.60) scale(1.0333 1.0000)" font-size="42" font-weight="400" fill="#000000" stroke="#000000" stroke-width="0.6">MAP-f</text>
</g>
</g>
</svg></body></html>
